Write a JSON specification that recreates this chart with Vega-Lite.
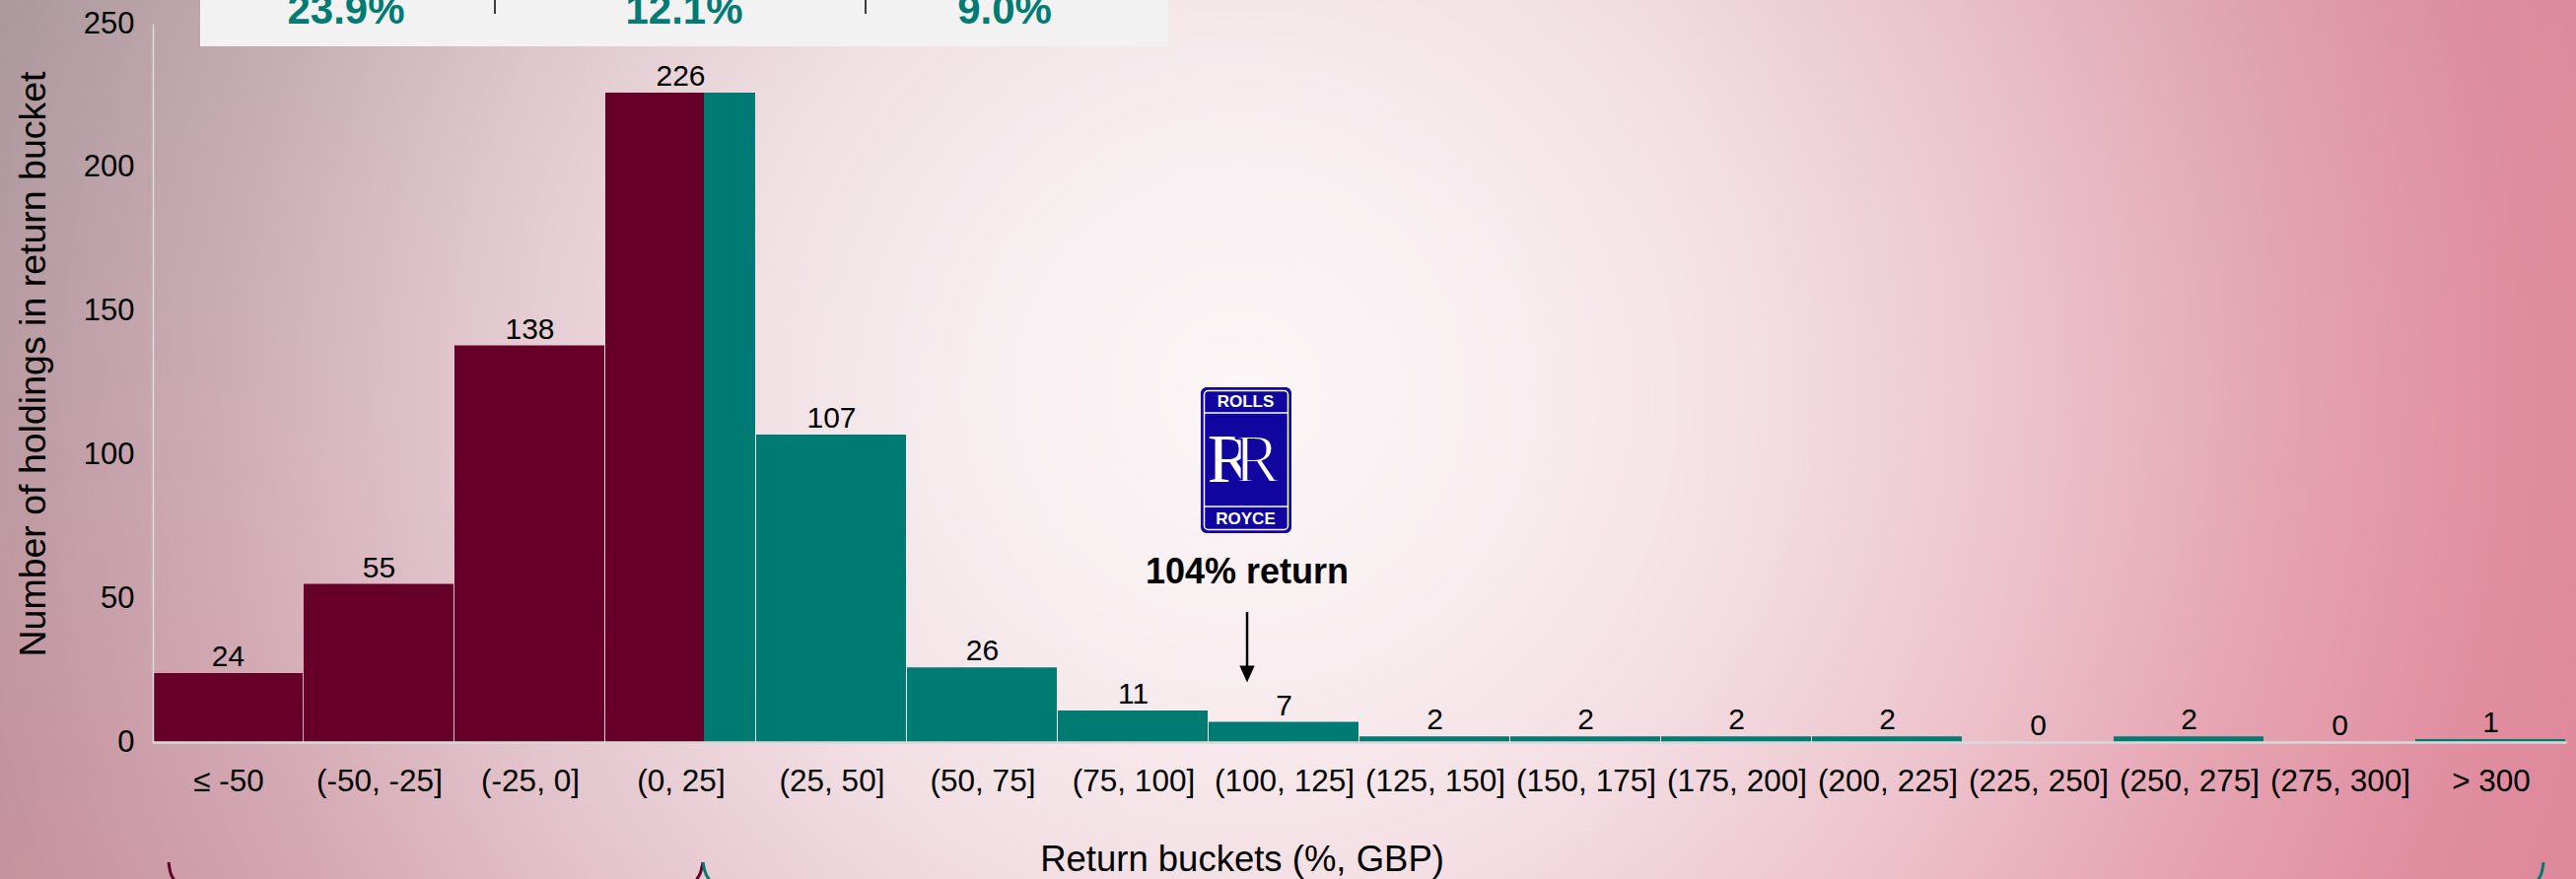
{
  "$schema": "https://vega.github.io/schema/vega-lite/v6.json",
  "width": 2448,
  "height": 729,
  "autosize": {"type": "none"},
  "padding": {"left": 155, "top": 24, "right": 10, "bottom": 139},
  "background": "#D0A3AD",
  "config": {
    "view": {"stroke": null},
    "font": "Liberation Sans",
    "axis": {"labelFont": "Liberation Sans", "titleFont": "Liberation Sans", "grid": false, "ticks": false, "tickSize": 0, "labelColor": "#000000", "titleColor": "#000000", "titleFontWeight": "normal", "labelOverlap": false, "labelFlush": false, "zindex": 1},
    "text": {"font": "Liberation Sans"}
  },
  "datasets": {
    "buckets": [
      {"bucket": "≤ -50", "lo": 0, "hi": 1, "mid": 0.5, "count": 24, "side": "neg"},
      {"bucket": "(-50, -25]", "lo": 1, "hi": 2, "mid": 1.5, "count": 55, "side": "neg"},
      {"bucket": "(-25, 0]", "lo": 2, "hi": 3, "mid": 2.5, "count": 138, "side": "neg"},
      {"bucket": "(0, 25]", "lo": 3, "hi": 4, "mid": 3.5, "count": 226, "side": "pos"},
      {"bucket": "(25, 50]", "lo": 4, "hi": 5, "mid": 4.5, "count": 107, "side": "pos"},
      {"bucket": "(50, 75]", "lo": 5, "hi": 6, "mid": 5.5, "count": 26, "side": "pos"},
      {"bucket": "(75, 100]", "lo": 6, "hi": 7, "mid": 6.5, "count": 11, "side": "pos"},
      {"bucket": "(100, 125]", "lo": 7, "hi": 8, "mid": 7.5, "count": 7, "side": "pos"},
      {"bucket": "(125, 150]", "lo": 8, "hi": 9, "mid": 8.5, "count": 2, "side": "pos"},
      {"bucket": "(150, 175]", "lo": 9, "hi": 10, "mid": 9.5, "count": 2, "side": "pos"},
      {"bucket": "(175, 200]", "lo": 10, "hi": 11, "mid": 10.5, "count": 2, "side": "pos"},
      {"bucket": "(200, 225]", "lo": 11, "hi": 12, "mid": 11.5, "count": 2, "side": "pos"},
      {"bucket": "(225, 250]", "lo": 12, "hi": 13, "mid": 12.5, "count": 0, "side": "pos"},
      {"bucket": "(250, 275]", "lo": 13, "hi": 14, "mid": 13.5, "count": 2, "side": "pos"},
      {"bucket": "(275, 300]", "lo": 14, "hi": 15, "mid": 14.5, "count": 0, "side": "pos"},
      {"bucket": "> 300", "lo": 15, "hi": 16, "mid": 15.5, "count": 1, "side": "pos"}
    ],
    "split": [
      {"bucket": "(0, 25]", "lo": 3, "hi": 3.654, "count": 226, "side": "neg"}
    ],
    "braces": [
      {"seg": "a", "side": "neg", "k": 0, "x": 0.1046, "y": -41.84},
      {"seg": "a", "side": "neg", "k": 1, "x": 0.1144, "y": -44.92},
      {"seg": "a", "side": "neg", "k": 2, "x": 0.1373, "y": -47.67},
      {"seg": "a", "side": "neg", "k": 3, "x": 0.165, "y": -50},
      {"seg": "b", "side": "neg", "k": 0, "x": 3.647, "y": -41.84},
      {"seg": "b", "side": "neg", "k": 1, "x": 3.634, "y": -44.92},
      {"seg": "b", "side": "neg", "k": 2, "x": 3.608, "y": -47.67},
      {"seg": "b", "side": "neg", "k": 3, "x": 3.58, "y": -50},
      {"seg": "c", "side": "pos", "k": 0, "x": 3.647, "y": -41.84},
      {"seg": "c", "side": "pos", "k": 1, "x": 3.66, "y": -44.92},
      {"seg": "c", "side": "pos", "k": 2, "x": 3.686, "y": -47.67},
      {"seg": "c", "side": "pos", "k": 3, "x": 3.714, "y": -50},
      {"seg": "d", "side": "pos", "k": 0, "x": 15.85, "y": -41.84},
      {"seg": "d", "side": "pos", "k": 1, "x": 15.84, "y": -44.92},
      {"seg": "d", "side": "pos", "k": 2, "x": 15.817, "y": -47.67},
      {"seg": "d", "side": "pos", "k": 3, "x": 15.79, "y": -50}
    ]
  },
  "layer": [
    {
      "data": {"values": [{}]},
      "mark": {"type": "rect", "fill": {"gradient": "linear", "x1": 0, "y1": 0, "x2": 1, "y2": 0.3, "stops": [
        {"offset": 0, "color": "#A8959A"},
        {"offset": 0.28, "color": "#C48F9C"},
        {"offset": 0.6, "color": "#D18D9E"},
        {"offset": 1, "color": "#DE889B"}
      ]}},
      "encoding": {
        "x": {"datum": -1.0131, "type": "quantitative", "scale": {"domain": [0, 16], "nice": false, "zero": false}},
        "x2": {"datum": 16.0654},
        "y": {"datum": -47.67, "type": "quantitative", "scale": {"domain": [0, 250], "nice": false, "zero": false}},
        "y2": {"datum": 258.23}
      }
    },
    {
      "data": {"values": [{}]},
      "mark": {"type": "rect", "fill": {"gradient": "radial", "x1": 0.482, "y1": 0.482, "r1": 0, "x2": 0.482, "y2": 0.482, "r2": 0.55, "stops": [
        {"offset": 0, "color": "rgba(255,255,255,0.92)"},
        {"offset": 0.18, "color": "rgba(255,255,255,0.86)"},
        {"offset": 0.364, "color": "rgba(255,255,255,0.72)"},
        {"offset": 0.545, "color": "rgba(255,255,255,0.5)"},
        {"offset": 0.727, "color": "rgba(255,255,255,0.24)"},
        {"offset": 0.909, "color": "rgba(255,255,255,0.04)"},
        {"offset": 1, "color": "rgba(255,255,255,0)"}
      ]}},
      "encoding": {
        "x": {"datum": -1.0131, "type": "quantitative", "scale": {"domain": [0, 16], "nice": false, "zero": false}},
        "x2": {"datum": 16.0654},
        "y": {"datum": -47.67, "type": "quantitative", "scale": {"domain": [0, 250], "nice": false, "zero": false}},
        "y2": {"datum": 258.23}
      }
    },
    {
      "data": {"values": [{}]},
      "mark": {"type": "rect", "fill": "#F2F2F2"},
      "encoding": {
        "x": {"datum": 0.3137, "type": "quantitative", "scale": {"domain": [0, 16], "nice": false, "zero": false}},
        "x2": {"datum": 6.732},
        "y": {"datum": 242.11, "type": "quantitative", "scale": {"domain": [0, 250], "nice": false, "zero": false}},
        "y2": {"datum": 262}
      }
    },
    {
      "data": {"values": [{}]},
      "mark": {"type": "rule", "color": "#000000", "strokeWidth": 1.5},
      "encoding": {
        "x": {"datum": 2.268, "type": "quantitative", "scale": {"domain": [0, 16], "nice": false, "zero": false}},
        "y": {"datum": 253.43, "type": "quantitative", "scale": {"domain": [0, 250], "nice": false, "zero": false}},
        "y2": {"datum": 262}
      }
    },
    {
      "data": {"values": [{}]},
      "mark": {"type": "rule", "color": "#000000", "strokeWidth": 1.5},
      "encoding": {
        "x": {"datum": 4.7255, "type": "quantitative", "scale": {"domain": [0, 16], "nice": false, "zero": false}},
        "y": {"datum": 253.43, "type": "quantitative", "scale": {"domain": [0, 250], "nice": false, "zero": false}},
        "y2": {"datum": 262}
      }
    },
    {
      "data": {"values": [{}]},
      "mark": {"type": "text", "text": "23.9%", "font": "Liberation Sans", "fontSize": 42, "fontWeight": "bold", "color": "#007B74", "align": "center", "baseline": "alphabetic"},
      "encoding": {
        "x": {"datum": 1.281, "type": "quantitative", "scale": {"domain": [0, 16], "nice": false, "zero": false}},
        "y": {"datum": 250.0, "type": "quantitative", "scale": {"domain": [0, 250], "nice": false, "zero": false}}
      }
    },
    {
      "data": {"values": [{}]},
      "mark": {"type": "text", "text": "12.1%", "font": "Liberation Sans", "fontSize": 42, "fontWeight": "bold", "color": "#007B74", "align": "center", "baseline": "alphabetic"},
      "encoding": {
        "x": {"datum": 3.5229, "type": "quantitative", "scale": {"domain": [0, 16], "nice": false, "zero": false}},
        "y": {"datum": 250.0, "type": "quantitative", "scale": {"domain": [0, 250], "nice": false, "zero": false}}
      }
    },
    {
      "data": {"values": [{}]},
      "mark": {"type": "text", "text": "9.0%", "font": "Liberation Sans", "fontSize": 42, "fontWeight": "bold", "color": "#007B74", "align": "center", "baseline": "alphabetic"},
      "encoding": {
        "x": {"datum": 5.6471, "type": "quantitative", "scale": {"domain": [0, 16], "nice": false, "zero": false}},
        "y": {"datum": 250.0, "type": "quantitative", "scale": {"domain": [0, 250], "nice": false, "zero": false}}
      }
    },
    {
      "data": {"name": "buckets"},
      "mark": {"type": "rect", "x2Offset": -1},
      "encoding": {
        "x": {
          "field": "lo", "type": "quantitative",
          "scale": {"domain": [0, 16], "nice": false, "zero": false},
          "axis": {
            "values": [0.5, 1.5, 2.5, 3.5, 4.5, 5.5, 6.5, 7.5, 8.5, 9.5, 10.5, 11.5, 12.5, 13.5, 14.5, 15.5],
            "labelExpr": "['≤ -50','(-50, -25]','(-25, 0]','(0, 25]','(25, 50]','(50, 75]','(75, 100]','(100, 125]','(125, 150]','(150, 175]','(175, 200]','(200, 225]','(225, 250]','(250, 275]','(275, 300]','> 300'][floor(datum.value)]",
            "title": "Return buckets (%, GBP)",
            "grid": false,
            "ticks": false,
            "tickSize": 0,
            "domainColor": "#D9D9D9",
            "domainWidth": 2.5,
            "labelPadding": 24.5,
            "labelFontSize": 31.5,
            "labelColor": "#000000",
            "labelOverlap": false,
            "labelFlush": false,
            "labelBaseline": "top",
            "titleFontSize": 36.5,
            "titleFontWeight": "normal",
            "titleColor": "#000000",
            "titleX": 1104.5,
            "titleY": 130,
            "titleAlign": "center",
            "titleBaseline": "alphabetic",
            "zindex": 1
          }
        },
        "x2": {"field": "hi"},
        "y": {
          "field": "count", "type": "quantitative",
          "scale": {"domain": [0, 250], "nice": false, "zero": false},
          "axis": {
            "values": [0, 50, 100, 150, 200, 250],
            "title": "Number of holdings in return bucket",
            "grid": false,
            "ticks": false,
            "tickSize": 0,
            "domainColor": "#DCDFE2",
            "domainWidth": 1.5,
            "labelPadding": 19,
            "labelFontSize": 31,
            "labelColor": "#000000",
            "labelOverlap": false,
            "labelFlush": false,
            "titleFontSize": 37.5,
            "titleFontWeight": "normal",
            "titleColor": "#000000",
            "titleAngle": 270,
            "titleX": -110,
            "titleY": 345,
            "titleAlign": "center",
            "titleBaseline": "alphabetic",
            "zindex": 1
          }
        },
        "y2": {"datum": 0},
        "color": {"field": "side", "type": "nominal", "scale": {"domain": ["neg", "pos"], "range": ["#660028", "#007B74"]}, "legend": null}
      }
    },
    {
      "data": {"name": "split"},
      "mark": {"type": "rect"},
      "encoding": {
        "x": {"field": "lo", "type": "quantitative", "scale": {"domain": [0, 16], "nice": false, "zero": false}},
        "x2": {"field": "hi"},
        "y": {"field": "count", "type": "quantitative", "scale": {"domain": [0, 250], "nice": false, "zero": false}},
        "y2": {"datum": 0},
        "color": {"field": "side", "type": "nominal", "scale": {"domain": ["neg", "pos"], "range": ["#660028", "#007B74"]}, "legend": null}
      }
    },
    {
      "data": {"name": "buckets"},
      "mark": {"type": "text", "font": "Liberation Sans", "fontSize": 30, "color": "#000000", "align": "center", "baseline": "alphabetic", "dy": -7},
      "encoding": {
        "x": {"field": "mid", "type": "quantitative", "scale": {"domain": [0, 16], "nice": false, "zero": false}},
        "y": {"field": "count", "type": "quantitative", "scale": {"domain": [0, 250], "nice": false, "zero": false}},
        "text": {"field": "count", "type": "quantitative"}
      }
    },
    {
      "data": {"name": "braces"},
      "mark": {"type": "line", "strokeWidth": 3, "interpolate": "monotone"},
      "encoding": {
        "x": {"field": "x", "type": "quantitative", "scale": {"domain": [0, 16], "nice": false, "zero": false}},
        "y": {"field": "y", "type": "quantitative", "scale": {"domain": [0, 250], "nice": false, "zero": false}},
        "order": {"field": "k", "type": "quantitative"},
        "detail": {"field": "seg", "type": "nominal"},
        "color": {"field": "side", "type": "nominal", "scale": {"domain": ["neg", "pos"], "range": ["#660028", "#007B74"]}, "legend": null}
      }
    },
    {
      "data": {"values": [{}]},
      "mark": {"type": "rect", "fill": "#10069F", "cornerRadius": 6},
      "encoding": {
        "x": {"datum": 6.9477, "type": "quantitative", "scale": {"domain": [0, 16], "nice": false, "zero": false}},
        "x2": {"datum": 7.549},
        "y": {"datum": 72.7, "type": "quantitative", "scale": {"domain": [0, 250], "nice": false, "zero": false}},
        "y2": {"datum": 123.46}
      }
    },
    {
      "data": {"values": [{}]},
      "mark": {"type": "rect", "fill": null, "filled": false, "stroke": "#FFFFFF", "strokeWidth": 1.5, "cornerRadius": 4},
      "encoding": {
        "x": {"datum": 6.9706, "type": "quantitative", "scale": {"domain": [0, 16], "nice": false, "zero": false}},
        "x2": {"datum": 7.5261},
        "y": {"datum": 73.9, "type": "quantitative", "scale": {"domain": [0, 250], "nice": false, "zero": false}},
        "y2": {"datum": 122.26}
      }
    },
    {
      "data": {"values": [{}]},
      "mark": {"type": "rule", "color": "#FFFFFF", "strokeWidth": 1.5},
      "encoding": {
        "x": {"datum": 6.9706, "type": "quantitative", "scale": {"domain": [0, 16], "nice": false, "zero": false}},
        "x2": {"datum": 7.5261},
        "y": {"datum": 114.54, "type": "quantitative", "scale": {"domain": [0, 250], "nice": false, "zero": false}}
      }
    },
    {
      "data": {"values": [{}]},
      "mark": {"type": "rule", "color": "#FFFFFF", "strokeWidth": 1.5},
      "encoding": {
        "x": {"datum": 6.9706, "type": "quantitative", "scale": {"domain": [0, 16], "nice": false, "zero": false}},
        "x2": {"datum": 7.5261},
        "y": {"datum": 81.96, "type": "quantitative", "scale": {"domain": [0, 250], "nice": false, "zero": false}}
      }
    },
    {
      "data": {"values": [{}]},
      "mark": {"type": "text", "text": "ROLLS", "font": "Liberation Sans", "fontSize": 17, "fontWeight": "bold", "color": "#FFFFFF", "align": "center", "baseline": "alphabetic"},
      "encoding": {
        "x": {"datum": 7.2451, "type": "quantitative", "scale": {"domain": [0, 16], "nice": false, "zero": false}},
        "y": {"datum": 116.6, "type": "quantitative", "scale": {"domain": [0, 250], "nice": false, "zero": false}}
      }
    },
    {
      "data": {"values": [{}]},
      "mark": {"type": "text", "text": "ROYCE", "font": "Liberation Sans", "fontSize": 17, "fontWeight": "bold", "color": "#FFFFFF", "align": "center", "baseline": "alphabetic"},
      "encoding": {
        "x": {"datum": 7.2451, "type": "quantitative", "scale": {"domain": [0, 16], "nice": false, "zero": false}},
        "y": {"datum": 75.79, "type": "quantitative", "scale": {"domain": [0, 250], "nice": false, "zero": false}}
      }
    },
    {
      "data": {"values": [{}]},
      "mark": {"type": "text", "text": "R", "font": "Liberation Serif", "fontSize": 70, "color": "#FFFFFF", "align": "center", "baseline": "alphabetic"},
      "encoding": {
        "x": {"datum": 7.1438, "type": "quantitative", "scale": {"domain": [0, 16], "nice": false, "zero": false}},
        "y": {"datum": 90.53, "type": "quantitative", "scale": {"domain": [0, 250], "nice": false, "zero": false}}
      }
    },
    {
      "data": {"values": [{}]},
      "mark": {"type": "text", "text": "R", "font": "Liberation Serif", "fontSize": 70, "color": "#FFFFFF", "stroke": "#10069F", "strokeWidth": 2, "align": "center", "baseline": "alphabetic"},
      "encoding": {
        "x": {"datum": 7.3203, "type": "quantitative", "scale": {"domain": [0, 16], "nice": false, "zero": false}},
        "y": {"datum": 90.53, "type": "quantitative", "scale": {"domain": [0, 250], "nice": false, "zero": false}}
      }
    },
    {
      "data": {"values": [{}]},
      "mark": {"type": "text", "text": "104% return", "font": "Liberation Sans", "fontSize": 36, "fontWeight": "bold", "color": "#000000", "align": "center", "baseline": "alphabetic"},
      "encoding": {
        "x": {"datum": 7.255, "type": "quantitative", "scale": {"domain": [0, 16], "nice": false, "zero": false}},
        "y": {"datum": 55.21, "type": "quantitative", "scale": {"domain": [0, 250], "nice": false, "zero": false}}
      }
    },
    {
      "data": {"values": [{}]},
      "mark": {"type": "rule", "color": "#000000", "strokeWidth": 2.5},
      "encoding": {
        "x": {"datum": 7.255, "type": "quantitative", "scale": {"domain": [0, 16], "nice": false, "zero": false}},
        "y": {"datum": 45.27, "type": "quantitative", "scale": {"domain": [0, 250], "nice": false, "zero": false}},
        "y2": {"datum": 25.72}
      }
    },
    {
      "data": {"values": [{}]},
      "mark": {"type": "point", "shape": "M-0.9,-1L0.9,-1L0,1Z", "filled": true, "color": "#000000", "opacity": 1, "size": 289},
      "encoding": {
        "x": {"datum": 7.255, "type": "quantitative", "scale": {"domain": [0, 16], "nice": false, "zero": false}},
        "y": {"datum": 23.66, "type": "quantitative", "scale": {"domain": [0, 250], "nice": false, "zero": false}}
      }
    }
  ]
}
